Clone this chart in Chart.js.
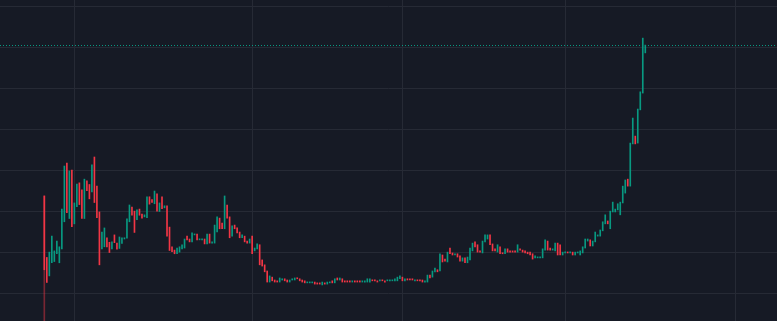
<!DOCTYPE html>
<html>
<head>
<meta charset="utf-8">
<script src="https://cdn.jsdelivr.net/npm/chart.js@4.4.1/dist/chart.umd.min.js"></script>
<style>
  html, body { margin: 0; padding: 0; background: #161a25; }
  #wrap { width: 777px; height: 321px; }
</style>
</head>
<body>
<div id="wrap"><canvas id="priceChart"></canvas></div>
<script>
// daily candles, index 0..240
const opens = [
  3.39,1.89,1.44,1.76,1.79,1.98,1.76,2.10,2.76,4.19,
  2.84,4.02,2.71,3.13,3.71,3.54,2.84,3.76,3.67,3.49,
  4.34,3.63,3.00,2.10,2.15,2.37,2.26,2.10,2.44,2.24,
  2.11,2.23,2.34,2.36,2.76,3.12,3.02,2.81,3.07,2.95,
  2.88,2.86,3.37,3.30,3.20,3.44,3.01,3.37,3.10,3.15,
  2.63,2.15,2.07,1.98,2.02,2.10,2.12,2.41,2.34,2.27,
  2.44,2.46,2.32,2.32,2.34,2.22,2.46,2.24,2.24,2.51,
  2.85,2.73,2.59,3.17,2.88,2.41,2.68,2.61,2.51,2.37,
  2.41,2.29,2.24,2.41,2.05,2.10,2.20,1.83,1.71,1.56,
  1.29,1.41,1.34,1.32,1.29,1.34,1.37,1.34,1.29,1.34,
  1.34,1.39,1.37,1.34,1.32,1.27,1.27,1.27,1.29,1.27,
  1.27,1.22,1.27,1.24,1.27,1.32,1.27,1.39,1.34,1.37,
  1.32,1.32,1.32,1.29,1.32,1.32,1.32,1.29,1.29,1.29,
  1.29,1.34,1.34,1.32,1.32,1.34,1.32,1.32,1.32,1.32,
  1.32,1.32,1.37,1.41,1.32,1.37,1.37,1.37,1.32,1.34,
  1.34,1.34,1.29,1.29,1.46,1.41,1.54,1.59,1.56,1.95,
  1.85,1.78,2.12,2.00,1.95,1.98,1.93,1.80,1.88,1.76,
  1.83,2.05,2.27,2.20,2.05,2.00,2.27,2.34,2.44,2.22,
  2.10,2.02,2.15,2.00,1.98,2.10,2.05,2.05,2.05,2.02,
  2.10,2.07,2.05,2.02,2.02,1.98,1.88,1.88,1.88,1.88,
  2.07,2.29,2.12,2.07,2.05,2.24,2.20,1.95,2.00,2.02,
  2.00,2.02,1.95,2.00,1.95,2.00,2.12,2.29,2.32,2.17,
  2.27,2.41,2.41,2.54,2.71,2.78,2.59,3.00,3.00,3.05,
  2.93,3.22,3.46,3.80,3.63,4.66,4.85,4.68,5.49,5.90,
  6.88
];
const closes = [
  1.59,1.28,2.02,2.41,2.05,2.29,2.15,3.07,4.12,2.98,
  4.00,2.64,3.22,3.68,3.18,2.84,3.80,3.52,3.32,4.15,
  3.23,2.86,1.71,2.51,2.61,2.15,2.01,2.27,2.25,2.09,
  2.39,2.37,2.37,2.83,3.17,2.92,2.50,3.05,2.92,2.85,
  2.93,3.37,3.19,3.23,3.51,3.02,3.22,3.08,3.15,2.41,
  2.06,2.03,1.98,2.12,2.15,2.20,2.34,2.32,2.27,2.49,
  2.46,2.32,2.34,2.34,2.22,2.46,2.24,2.27,2.68,2.88,
  2.59,2.59,3.39,2.85,2.37,2.66,2.59,2.49,2.37,2.44,
  2.27,2.24,2.34,1.98,2.12,2.22,1.71,1.68,1.54,1.29,
  1.44,1.32,1.29,1.29,1.39,1.37,1.32,1.29,1.34,1.37,
  1.39,1.37,1.32,1.29,1.27,1.29,1.29,1.29,1.24,1.24,
  1.24,1.29,1.24,1.29,1.29,1.27,1.37,1.34,1.39,1.29,
  1.29,1.29,1.29,1.32,1.29,1.29,1.29,1.32,1.32,1.37,
  1.37,1.32,1.32,1.29,1.34,1.32,1.29,1.34,1.34,1.34,
  1.37,1.41,1.44,1.32,1.37,1.34,1.34,1.34,1.34,1.32,
  1.32,1.29,1.32,1.46,1.39,1.56,1.63,1.54,1.98,1.78,
  1.80,2.02,1.98,1.95,1.98,1.90,1.80,1.88,1.76,1.90,
  2.12,2.24,2.15,2.02,2.02,2.29,2.44,2.44,2.20,2.05,
  2.05,2.20,1.98,1.98,2.10,2.02,2.02,2.02,2.02,2.20,
  2.07,2.02,2.00,1.98,1.95,1.85,1.93,1.90,1.90,2.10,
  2.32,2.07,2.07,2.10,2.24,1.95,1.95,2.02,2.02,2.00,
  2.02,1.95,2.02,2.02,2.05,2.15,2.34,2.34,2.17,2.29,
  2.51,2.44,2.56,2.76,2.93,2.71,3.02,3.24,3.07,3.20,
  3.24,3.63,3.78,3.63,4.68,5.29,4.66,5.51,5.93,7.24,
  7.07
];
// the only wick that shows is on the first candle
const wickIndex = [0];
const wickLow = [0.2];
const wickHigh = [3.39];

const priceTicks = [1, 2, 3, 4, 5, 6, 7, 8];
const timeTicks = [12, 83, 143, 208, 276];

const upColor = '#089981';
const downColor = '#f23645';

const candles = opens.map((o, i) => ({ x: i, y: [o, closes[i]] }));
const candleColors = opens.map((o, i) => closes[i] >= o ? upColor : downColor);
const wicks = wickIndex.map((x, k) => ({ x: x, y: [wickLow[k], wickHigh[k]] }));

const lastPriceLine = {
  id: 'lastPriceLine',
  beforeDatasetsDraw(chart) {
    const y = Math.round(chart.scales.y.getPixelForValue(closes[closes.length - 1])) + 0.5;
    const area = chart.chartArea;
    const ctx = chart.ctx;
    ctx.save();
    ctx.strokeStyle = upColor;
    ctx.lineWidth = 1;
    ctx.setLineDash([1, 2]);
    ctx.beginPath();
    ctx.moveTo(area.left, y);
    ctx.lineTo(area.right, y);
    ctx.stroke();
    ctx.restore();
  }
};

new Chart(document.getElementById('priceChart'), {
  type: 'bar',
  data: {
    datasets: [{
      data: wicks,
      backgroundColor: 'rgba(242,54,69,0.45)',
      barThickness: 1,
      grouped: false,
      order: 2
    }, {
      data: candles,
      backgroundColor: candleColors,
      barThickness: 1,
      minBarLength: 1,
      grouped: false,
      order: 1
    }]
  },
  options: {
    responsive: true,
    maintainAspectRatio: false,
    animation: false,
    layout: { padding: 0 },
    plugins: {
      legend: { display: false },
      tooltip: { enabled: false }
    },
    scales: {
      x: {
        type: 'linear',
        offset: false,
        min: -17.7,
        max: 292.6,
        afterBuildTicks: (scale) => { scale.ticks = timeTicks.map(v => ({ value: v })); },
        ticks: { display: false },
        grid: { color: '#262a35', drawTicks: false, offset: false },
        border: { display: false }
      },
      y: {
        min: 0.34,
        max: 8.17,
        afterBuildTicks: (scale) => { scale.ticks = priceTicks.map(v => ({ value: v })); },
        ticks: { display: false },
        grid: { color: '#262a35', drawTicks: false },
        border: { display: false }
      }
    }
  },
  plugins: [lastPriceLine]
});
</script>
</body>
</html>
